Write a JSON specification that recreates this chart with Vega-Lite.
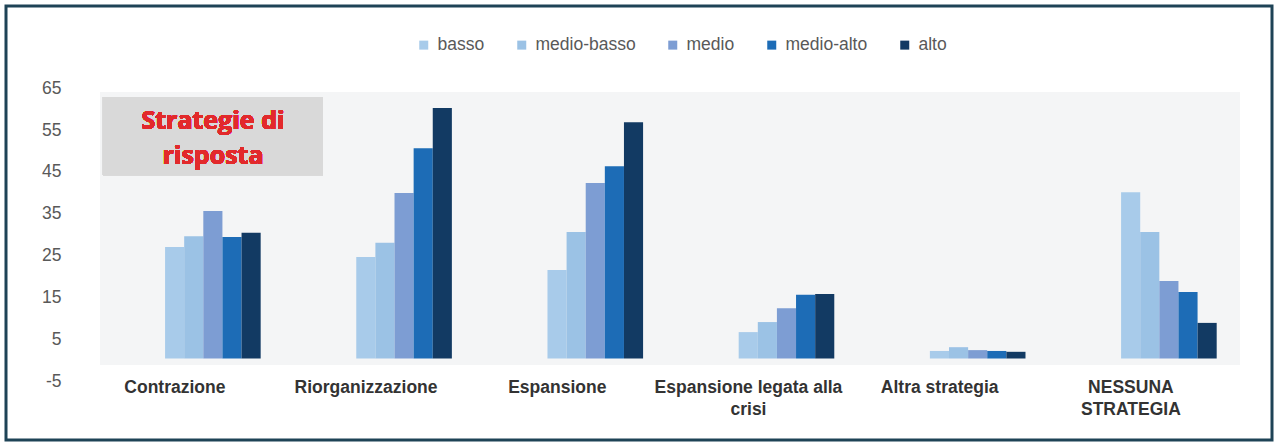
{
  "$schema": "https://vega.github.io/schema/vega-lite/v6.json",
  "width": 1266,
  "height": 434,
  "autosize": "none",
  "padding": {"left": 6, "top": 6, "right": 2, "bottom": 2},
  "background": "#ffffff",
  "config": {
    "view": {"stroke": "#1e4356", "strokeWidth": 3},
    "font": "Liberation Sans, Arial, sans-serif"
  },
  "data": {
    "values": [
      {"strategia": "Contrazione", "livello": "basso", "valore": 26.6},
      {"strategia": "Contrazione", "livello": "medio-basso", "valore": 29.2},
      {"strategia": "Contrazione", "livello": "medio", "valore": 35.2},
      {"strategia": "Contrazione", "livello": "medio-alto", "valore": 29.0},
      {"strategia": "Contrazione", "livello": "alto", "valore": 30.0},
      {"strategia": "Riorganizzazione", "livello": "basso", "valore": 24.2},
      {"strategia": "Riorganizzazione", "livello": "medio-basso", "valore": 27.6},
      {"strategia": "Riorganizzazione", "livello": "medio", "valore": 39.5},
      {"strategia": "Riorganizzazione", "livello": "medio-alto", "valore": 50.2},
      {"strategia": "Riorganizzazione", "livello": "alto", "valore": 59.8},
      {"strategia": "Espansione", "livello": "basso", "valore": 21.1},
      {"strategia": "Espansione", "livello": "medio-basso", "valore": 30.2},
      {"strategia": "Espansione", "livello": "medio", "valore": 41.9},
      {"strategia": "Espansione", "livello": "medio-alto", "valore": 45.9},
      {"strategia": "Espansione", "livello": "alto", "valore": 56.4},
      {"strategia": "Espansione legata alla crisi", "livello": "basso", "valore": 6.3},
      {"strategia": "Espansione legata alla crisi", "livello": "medio-basso", "valore": 8.7},
      {"strategia": "Espansione legata alla crisi", "livello": "medio", "valore": 12.0},
      {"strategia": "Espansione legata alla crisi", "livello": "medio-alto", "valore": 15.2},
      {"strategia": "Espansione legata alla crisi", "livello": "alto", "valore": 15.4},
      {"strategia": "Altra strategia", "livello": "basso", "valore": 1.8},
      {"strategia": "Altra strategia", "livello": "medio-basso", "valore": 2.7},
      {"strategia": "Altra strategia", "livello": "medio", "valore": 2.0},
      {"strategia": "Altra strategia", "livello": "medio-alto", "valore": 1.8},
      {"strategia": "Altra strategia", "livello": "alto", "valore": 1.6},
      {"strategia": "NESSUNA STRATEGIA", "livello": "basso", "valore": 39.7},
      {"strategia": "NESSUNA STRATEGIA", "livello": "medio-basso", "valore": 30.2},
      {"strategia": "NESSUNA STRATEGIA", "livello": "medio", "valore": 18.5},
      {"strategia": "NESSUNA STRATEGIA", "livello": "medio-alto", "valore": 15.9},
      {"strategia": "NESSUNA STRATEGIA", "livello": "alto", "valore": 8.5}
    ]
  },
  "layer": [
    {
      "mark": {"type": "rect", "fill": "#f4f5f6"},
      "encoding": {
        "x": {"datum": 0.0742, "type": "quantitative", "scale": {"domain": [0, 1], "nice": false, "zero": false}, "axis": null},
        "x2": {"datum": 0.9747},
        "y": {"datum": 63.6, "type": "quantitative"},
        "y2": {"datum": -1.55}
      }
    },
    {
      "mark": {"type": "bar"},
      "encoding": {
        "x": {
          "field": "strategia",
          "type": "nominal",
          "sort": null,
          "scale": {"paddingInner": 0.5, "paddingOuter": 0.5606, "align": 0.742},
          "axis": {
            "title": null,
            "domain": false,
            "ticks": false,
            "grid": false,
            "labelAngle": 0,
            "offset": -62,
            "labelPadding": 0,
            "labelOffset": -38,
            "labelFont": "Liberation Sans, Arial, sans-serif",
            "labelFontSize": 17.5,
            "labelFontWeight": "bold",
            "labelColor": "#333333",
            "labelLineHeight": 22,
            "labelLimit": 300,
            "labelExpr": "datum.label == 'Espansione legata alla crisi' ? ['Espansione legata alla', 'crisi'] : datum.label == 'NESSUNA STRATEGIA' ? ['NESSUNA', 'STRATEGIA'] : datum.label"
          }
        },
        "xOffset": {
          "field": "livello",
          "type": "nominal",
          "scale": {"domain": ["basso", "medio-basso", "medio", "medio-alto", "alto"], "paddingInner": 0, "paddingOuter": 0}
        },
        "y": {
          "field": "valore",
          "type": "quantitative",
          "scale": {"domain": [-19.45, 84.13], "nice": false, "zero": false},
          "axis": {
            "title": null,
            "values": [-5, 5, 15, 25, 35, 45, 55, 65],
            "labelExpr": "'' + datum.value",
            "domain": false,
            "ticks": false,
            "grid": false,
            "offset": -57,
            "labelPadding": 2,
            "labelOffset": 2,
            "labelFont": "Liberation Sans, Arial, sans-serif",
            "labelFontSize": 17.5,
            "labelColor": "#595959"
          }
        },
        "color": {
          "field": "livello",
          "type": "nominal",
          "scale": {
            "domain": ["basso", "medio-basso", "medio", "medio-alto", "alto"],
            "range": ["#a8cbea", "#9bc2e5", "#7d9dd3", "#1d6cb6", "#123a63"]
          },
          "legend": {
            "title": null,
            "orient": "none",
            "direction": "horizontal",
            "legendX": 409,
            "legendY": 30,
            "symbolType": "square",
            "symbolSize": 81,
            "symbolStrokeWidth": 0,
            "symbolOpacity": 1,
            "labelOffset": 5,
            "columnPadding": 28,
            "labelFont": "Liberation Sans, Arial, sans-serif",
            "labelFontSize": 17.5,
            "labelColor": "#595959"
          }
        }
      }
    },
    {
      "mark": {"type": "rect", "fill": "#d9d9d9"},
      "encoding": {
        "x": {"datum": 0.0766, "type": "quantitative", "scale": {"domain": [0, 1], "nice": false, "zero": false}, "axis": null},
        "x2": {"datum": 0.2504},
        "y": {"datum": 62.41, "type": "quantitative"},
        "y2": {"datum": 43.68}
      }
    },
    {
      "mark": {
        "type": "text",
        "text": "Strategie di\nrisposta",
        "lineBreak": "\n",
        "lineHeight": 35,
        "font": "Open Sans",
        "fontWeight": "bold",
        "fontSize": 25,
        "color": "#e3292b",
        "align": "center",
        "baseline": "middle"
      },
      "encoding": {
        "x": {"datum": 0.1635, "type": "quantitative", "scale": {"domain": [0, 1], "nice": false, "zero": false}, "axis": null},
        "y": {"datum": 56.6, "type": "quantitative"}
      }
    }
  ],
  "resolve": {"scale": {"x": "independent"}, "axis": {"x": "independent"}}
}
